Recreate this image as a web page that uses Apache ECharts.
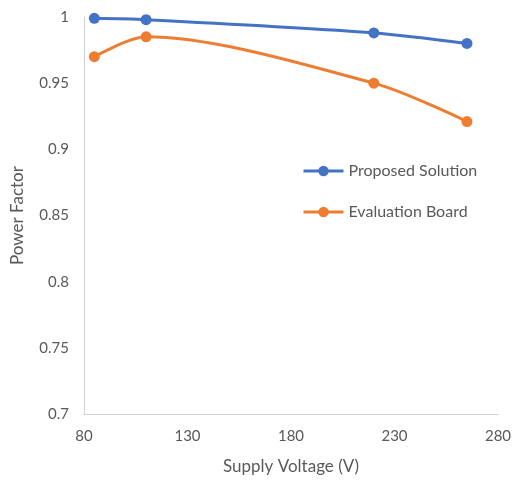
<!DOCTYPE html>
<html>
<head>
<meta charset="utf-8">
<script src="https://cdn.jsdelivr.net/npm/echarts@6/dist/echarts.min.js"></script>
<style>html,body{margin:0;padding:0;background:#fff}#chart{width:529px;height:480px}</style>
</head>
<body>
<div id="chart"></div>
<script>
// Supply voltage sweep (V) and measured power factor
const voltages = [85, 110, 220, 265];
const proposedSolution = [0.999, 0.998, 0.988, 0.980];
const evaluationBoard = [0.970, 0.985, 0.950, 0.921];
const seriesNames = ['Proposed Solution', 'Evaluation Board'];
const xTicks = [80, 130, 180, 230, 280];
const yTicks = [0.7, 0.75, 0.8, 0.85, 0.9, 0.95, 1];

const font = 'Lato, "Open Sans", sans-serif';
const textColor = '#595959';

const chart = echarts.init(document.getElementById('chart'));
const pairs = vals => voltages.map((v, i) => [v, vals[i]]);

chart.setOption({
  animation: false,
  textStyle: { fontFamily: font },
  grid: { left: 84, right: 31, top: 17, bottom: 66 },
  legend: {
    orient: 'vertical',
    left: 297,
    top: 158,
    itemWidth: 40,
    itemHeight: 13,
    itemGap: 25,
    lineStyle: { width: 3 },
    textStyle: { fontFamily: font, fontSize: 16, color: textColor },
    data: seriesNames
  },
  xAxis: {
    type: 'value',
    min: xTicks[0],
    max: xTicks[xTicks.length - 1],
    interval: 50,
    name: 'Supply Voltage (V)',
    nameLocation: 'middle',
    nameGap: 44,
    nameTextStyle: { fontFamily: font, fontSize: 17, color: textColor },
    axisLine: { lineStyle: { color: '#d0d0d0', width: 1 } },
    axisTick: { show: false },
    splitLine: { show: false },
    axisLabel: { fontFamily: font, fontSize: 15, color: textColor, margin: 15 }
  },
  yAxis: {
    type: 'value',
    min: yTicks[0],
    max: yTicks[yTicks.length - 1],
    interval: 0.05,
    name: 'Power Factor',
    nameLocation: 'middle',
    nameGap: 58,
    nameRotate: 90,
    nameTextStyle: { fontFamily: font, fontSize: 17, color: textColor },
    axisLine: { show: true, lineStyle: { color: '#d0d0d0', width: 1 } },
    axisTick: { show: false },
    splitLine: { show: false },
    axisLabel: {
      fontFamily: font, fontSize: 15, color: textColor, margin: 15,
      formatter: v => String(+v.toFixed(2))
    }
  },
  series: [
    {
      name: seriesNames[0],
      type: 'line',
      smooth: 0.3,
      data: pairs(proposedSolution),
      symbol: 'circle',
      symbolSize: 11,
      itemStyle: { color: '#4472c4' },
      lineStyle: { color: '#4472c4', width: 3 }
    },
    {
      name: seriesNames[1],
      type: 'line',
      smooth: 0.3,
      data: pairs(evaluationBoard),
      symbol: 'circle',
      symbolSize: 11,
      itemStyle: { color: '#ed7d31' },
      lineStyle: { color: '#ed7d31', width: 3 }
    }
  ]
});
</script>
</body>
</html>
